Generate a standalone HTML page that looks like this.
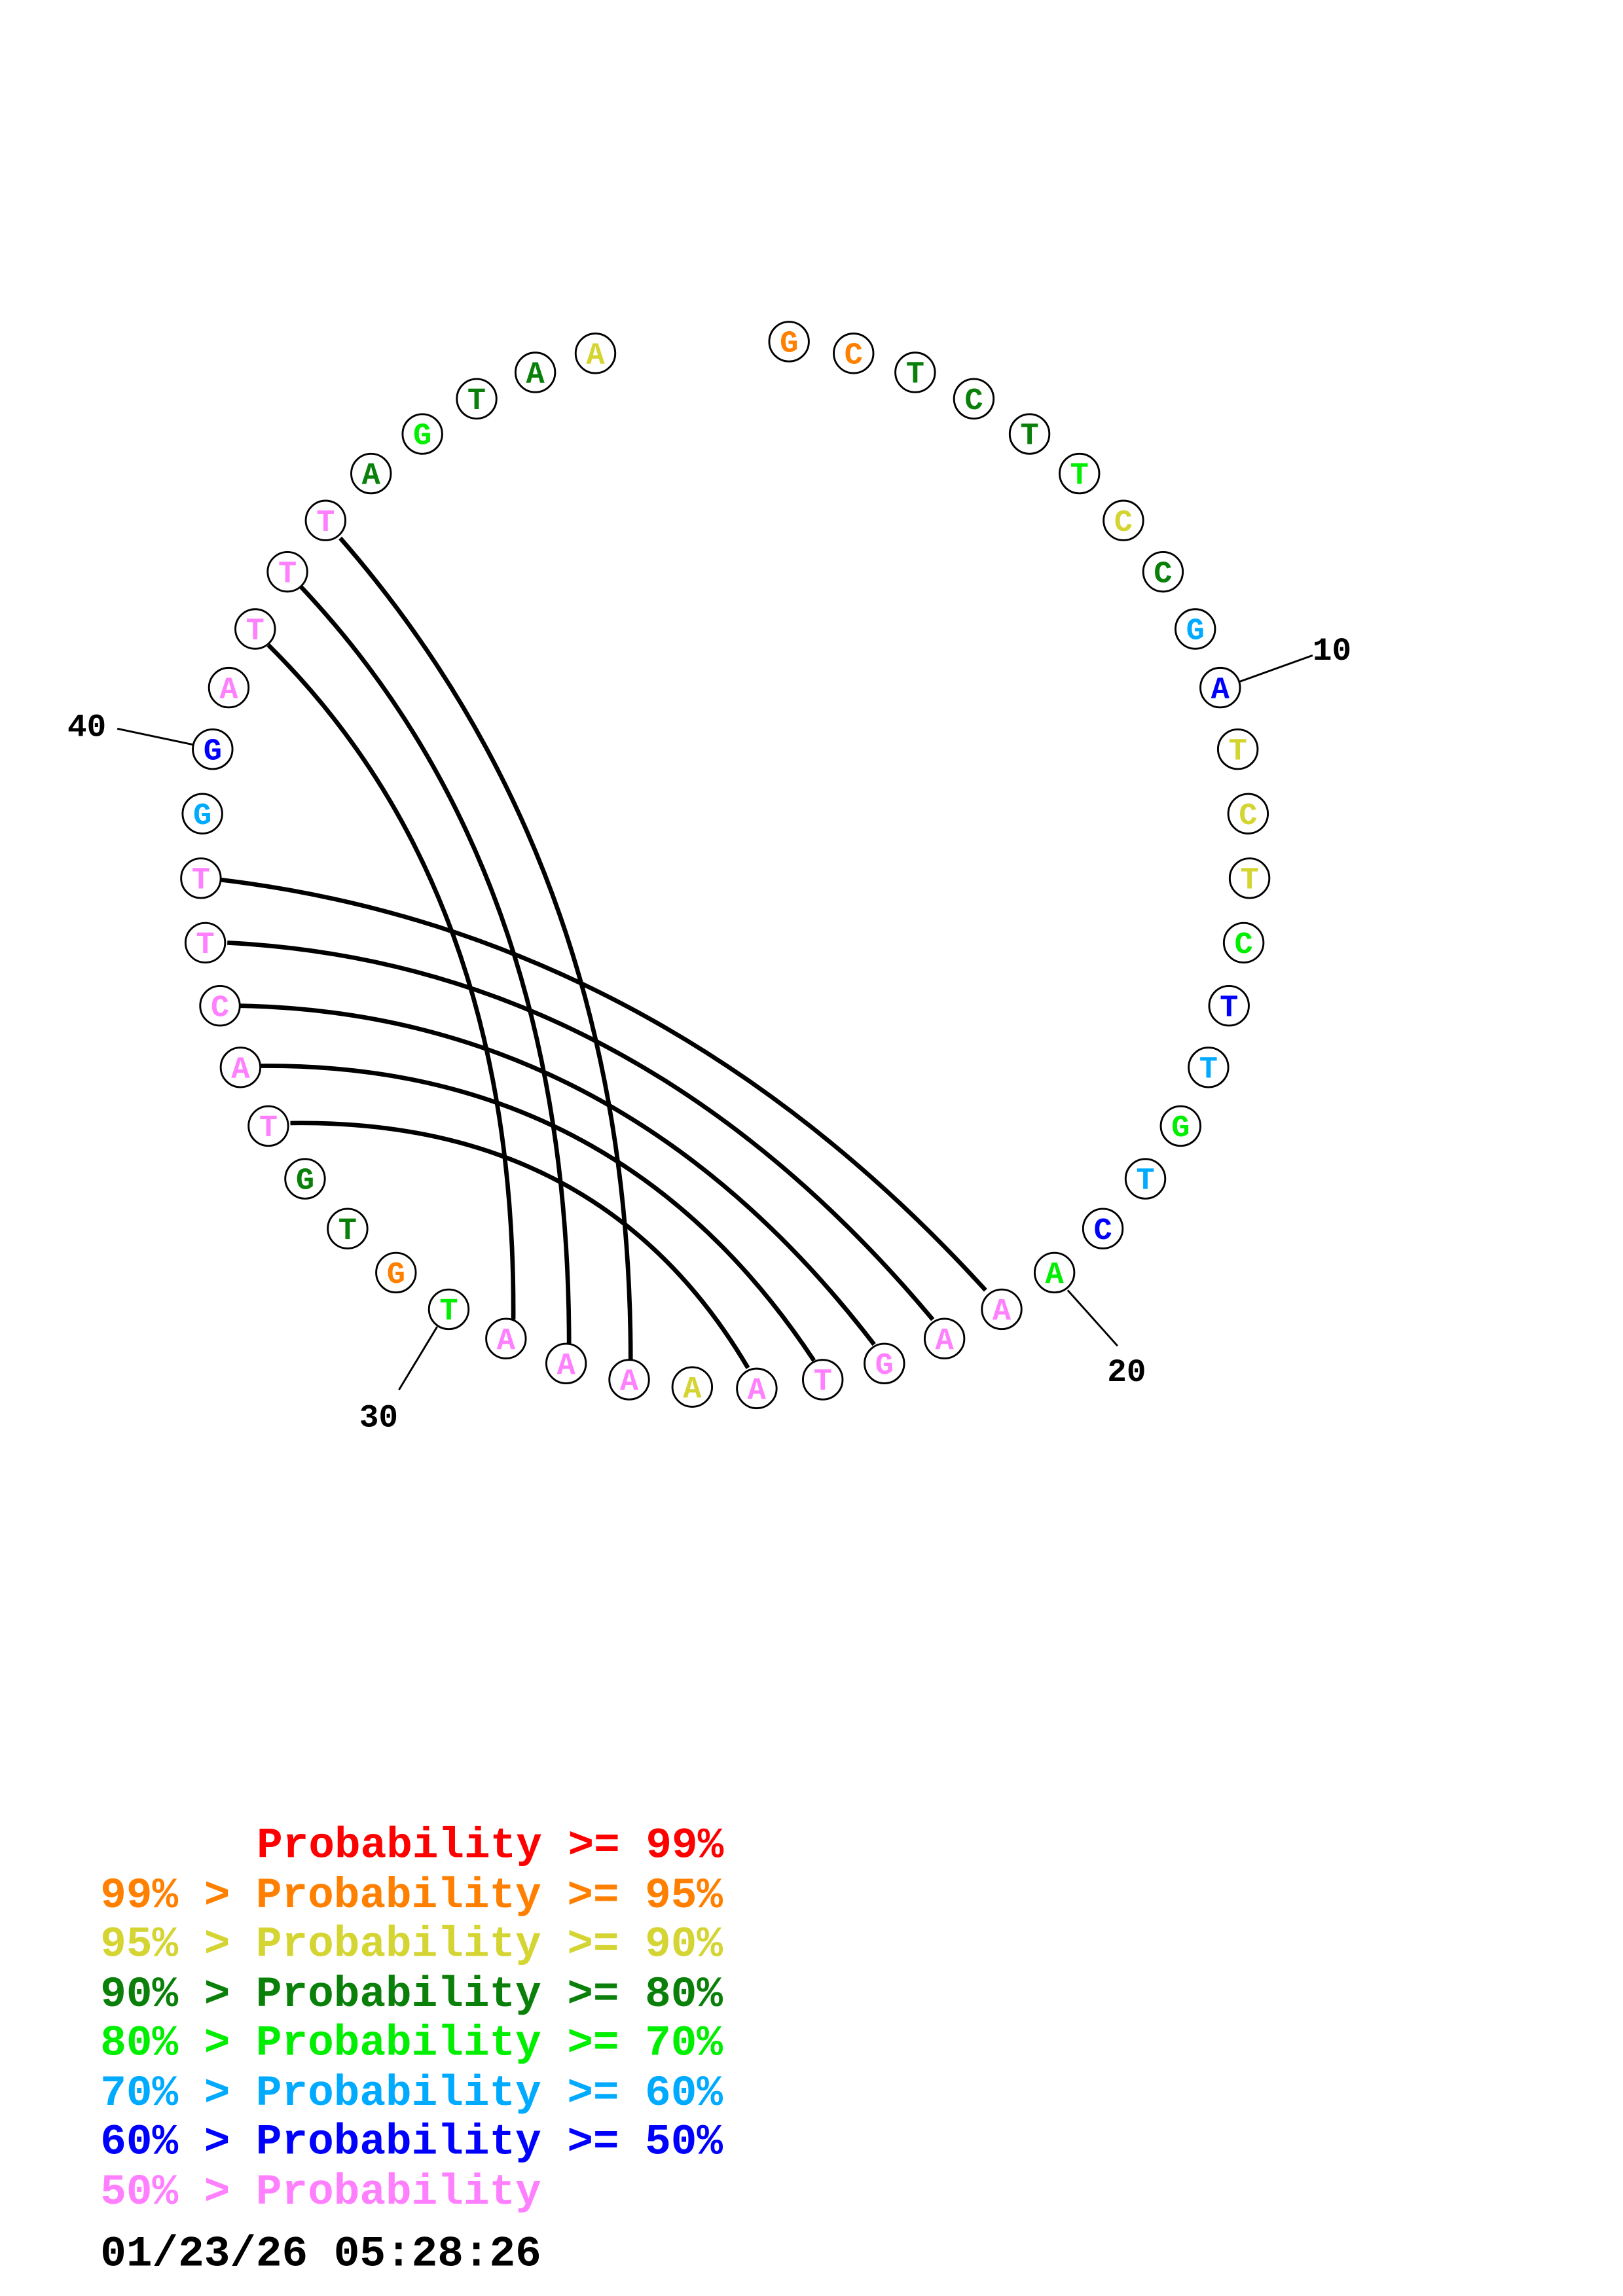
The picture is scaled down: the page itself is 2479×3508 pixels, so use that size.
<!DOCTYPE html>
<html><head><meta charset="utf-8"><style>html,body{margin:0;padding:0;background:#fff}svg{display:block}</style></head>
<body>
<svg width="2479" height="3508" viewBox="0 0 1100 1556.6" preserveAspectRatio="none" xmlns="http://www.w3.org/2000/svg">
<rect width="1100" height="1556.6" fill="#fff"/>
<g transform="scale(0.994)">
<g fill="none" stroke="#000" stroke-width="3">
<path d="M232,367 Q430,594 430,928"/>
<path d="M205,400 Q388,594 388,917"/>
<path d="M183,440 Q352,607 350,900"/>
<path d="M150,600 Q450,636 672,880"/>
<path d="M155,643 Q433,657 636,900"/>
<path d="M164,686 Q423,691 596,917"/>
<path d="M178,727 Q421,725 555,928"/>
<path d="M198,766 Q410,763 510,933"/>
</g>
<g stroke="#000" stroke-width="1.3">
<line x1="845" y1="465" x2="895" y2="447"/>
<line x1="728" y1="880" x2="762" y2="918"/>
<line x1="298" y1="905" x2="272" y2="948"/>
<line x1="80" y1="497" x2="132" y2="508"/>
</g>
<g font-family="Liberation Mono, monospace" font-weight="bold" font-size="22" fill="#000">
<text x="895" y="450">10</text>
<text x="755" y="942">20</text>
<text x="245" y="973">30</text>
<text x="46" y="502">40</text>
</g>
<g font-family="Liberation Mono, monospace" font-weight="bold" font-size="21" text-anchor="middle" stroke-width="1.3">
<g><circle cx="538" cy="233" r="13.5" fill="#fff" stroke="#000"/><text x="538" y="240" fill="#ff8000">G</text></g>
<g><circle cx="582" cy="241" r="13.5" fill="#fff" stroke="#000"/><text x="582" y="248" fill="#ff8000">C</text></g>
<g><circle cx="624" cy="254" r="13.5" fill="#fff" stroke="#000"/><text x="624" y="261" fill="#0a800a">T</text></g>
<g><circle cx="664" cy="272" r="13.5" fill="#fff" stroke="#000"/><text x="664" y="279" fill="#0a800a">C</text></g>
<g><circle cx="702" cy="296" r="13.5" fill="#fff" stroke="#000"/><text x="702" y="303" fill="#0a800a">T</text></g>
<g><circle cx="736" cy="323" r="13.5" fill="#fff" stroke="#000"/><text x="736" y="330" fill="#00ee00">T</text></g>
<g><circle cx="766" cy="355" r="13.5" fill="#fff" stroke="#000"/><text x="766" y="362" fill="#d4d432">C</text></g>
<g><circle cx="793" cy="390" r="13.5" fill="#fff" stroke="#000"/><text x="793" y="397" fill="#0a800a">C</text></g>
<g><circle cx="815" cy="429" r="13.5" fill="#fff" stroke="#000"/><text x="815" y="436" fill="#00aaff">G</text></g>
<g><circle cx="832" cy="469" r="13.5" fill="#fff" stroke="#000"/><text x="832" y="476" fill="#0000ff">A</text></g>
<g><circle cx="844" cy="511" r="13.5" fill="#fff" stroke="#000"/><text x="844" y="518" fill="#d4d432">T</text></g>
<g><circle cx="851" cy="555" r="13.5" fill="#fff" stroke="#000"/><text x="851" y="562" fill="#d4d432">C</text></g>
<g><circle cx="852" cy="599" r="13.5" fill="#fff" stroke="#000"/><text x="852" y="606" fill="#d4d432">T</text></g>
<g><circle cx="848" cy="643" r="13.5" fill="#fff" stroke="#000"/><text x="848" y="650" fill="#00ee00">C</text></g>
<g><circle cx="838" cy="686" r="13.5" fill="#fff" stroke="#000"/><text x="838" y="693" fill="#0000ff">T</text></g>
<g><circle cx="824" cy="728" r="13.5" fill="#fff" stroke="#000"/><text x="824" y="735" fill="#00aaff">T</text></g>
<g><circle cx="805" cy="768" r="13.5" fill="#fff" stroke="#000"/><text x="805" y="775" fill="#00ee00">G</text></g>
<g><circle cx="781" cy="804" r="13.5" fill="#fff" stroke="#000"/><text x="781" y="811" fill="#00aaff">T</text></g>
<g><circle cx="752" cy="838" r="13.5" fill="#fff" stroke="#000"/><text x="752" y="845" fill="#0000ff">C</text></g>
<g><circle cx="719" cy="868" r="13.5" fill="#fff" stroke="#000"/><text x="719" y="875" fill="#00ee00">A</text></g>
<g><circle cx="683" cy="893" r="13.5" fill="#fff" stroke="#000"/><text x="683" y="900" fill="#ff80ff">A</text></g>
<g><circle cx="644" cy="913" r="13.5" fill="#fff" stroke="#000"/><text x="644" y="920" fill="#ff80ff">A</text></g>
<g><circle cx="603" cy="930" r="13.5" fill="#fff" stroke="#000"/><text x="603" y="937" fill="#ff80ff">G</text></g>
<g><circle cx="561" cy="941" r="13.5" fill="#fff" stroke="#000"/><text x="561" y="948" fill="#ff80ff">T</text></g>
<g><circle cx="516" cy="947" r="13.5" fill="#fff" stroke="#000"/><text x="516" y="954" fill="#ff80ff">A</text></g>
<g><circle cx="472" cy="946" r="13.5" fill="#fff" stroke="#000"/><text x="472" y="953" fill="#d4d432">A</text></g>
<g><circle cx="429" cy="941" r="13.5" fill="#fff" stroke="#000"/><text x="429" y="948" fill="#ff80ff">A</text></g>
<g><circle cx="386" cy="930" r="13.5" fill="#fff" stroke="#000"/><text x="386" y="937" fill="#ff80ff">A</text></g>
<g><circle cx="345" cy="913" r="13.5" fill="#fff" stroke="#000"/><text x="345" y="920" fill="#ff80ff">A</text></g>
<g><circle cx="306" cy="893" r="13.5" fill="#fff" stroke="#000"/><text x="306" y="900" fill="#00ee00">T</text></g>
<g><circle cx="270" cy="868" r="13.5" fill="#fff" stroke="#000"/><text x="270" y="875" fill="#ff8000">G</text></g>
<g><circle cx="237" cy="838" r="13.5" fill="#fff" stroke="#000"/><text x="237" y="845" fill="#0a800a">T</text></g>
<g><circle cx="208" cy="804" r="13.5" fill="#fff" stroke="#000"/><text x="208" y="811" fill="#0a800a">G</text></g>
<g><circle cx="183" cy="768" r="13.5" fill="#fff" stroke="#000"/><text x="183" y="775" fill="#ff80ff">T</text></g>
<g><circle cx="164" cy="728" r="13.5" fill="#fff" stroke="#000"/><text x="164" y="735" fill="#ff80ff">A</text></g>
<g><circle cx="150" cy="686" r="13.5" fill="#fff" stroke="#000"/><text x="150" y="693" fill="#ff80ff">C</text></g>
<g><circle cx="140" cy="643" r="13.5" fill="#fff" stroke="#000"/><text x="140" y="650" fill="#ff80ff">T</text></g>
<g><circle cx="137" cy="599" r="13.5" fill="#fff" stroke="#000"/><text x="137" y="606" fill="#ff80ff">T</text></g>
<g><circle cx="138" cy="555" r="13.5" fill="#fff" stroke="#000"/><text x="138" y="562" fill="#00aaff">G</text></g>
<g><circle cx="145" cy="511" r="13.5" fill="#fff" stroke="#000"/><text x="145" y="518" fill="#0000ff">G</text></g>
<g><circle cx="156" cy="469" r="13.5" fill="#fff" stroke="#000"/><text x="156" y="476" fill="#ff80ff">A</text></g>
<g><circle cx="174" cy="429" r="13.5" fill="#fff" stroke="#000"/><text x="174" y="436" fill="#ff80ff">T</text></g>
<g><circle cx="196" cy="390" r="13.5" fill="#fff" stroke="#000"/><text x="196" y="397" fill="#ff80ff">T</text></g>
<g><circle cx="222" cy="355" r="13.5" fill="#fff" stroke="#000"/><text x="222" y="362" fill="#ff80ff">T</text></g>
<g><circle cx="253" cy="323" r="13.5" fill="#fff" stroke="#000"/><text x="253" y="330" fill="#0a800a">A</text></g>
<g><circle cx="288" cy="296" r="13.5" fill="#fff" stroke="#000"/><text x="288" y="303" fill="#00ee00">G</text></g>
<g><circle cx="325" cy="272" r="13.5" fill="#fff" stroke="#000"/><text x="325" y="279" fill="#0a800a">T</text></g>
<g><circle cx="365" cy="254" r="13.5" fill="#fff" stroke="#000"/><text x="365" y="261" fill="#0a800a">A</text></g>
<g><circle cx="406" cy="241" r="13.5" fill="#fff" stroke="#000"/><text x="406" y="248" fill="#d4d432">A</text></g>
</g>
</g>
<g font-family="Liberation Mono, monospace" font-weight="bold" font-size="29.3">
<text x="174" y="1259" fill="#ff0000">Probability &gt;= 99%</text>
<text x="68" y="1293" fill="#ff8000">99% &gt; Probability &gt;= 95%</text>
<text x="68" y="1326" fill="#d4d432">95% &gt; Probability &gt;= 90%</text>
<text x="68" y="1360" fill="#0a800a">90% &gt; Probability &gt;= 80%</text>
<text x="68" y="1393" fill="#00ee00">80% &gt; Probability &gt;= 70%</text>
<text x="68" y="1427" fill="#00aaff">70% &gt; Probability &gt;= 60%</text>
<text x="68" y="1460" fill="#0000ff">60% &gt; Probability &gt;= 50%</text>
<text x="68" y="1494" fill="#ff80ff">50% &gt; Probability</text>
<text x="68" y="1536" fill="#000">01/23/26 05:28:26</text>
</g>
</svg>
</body></html>
